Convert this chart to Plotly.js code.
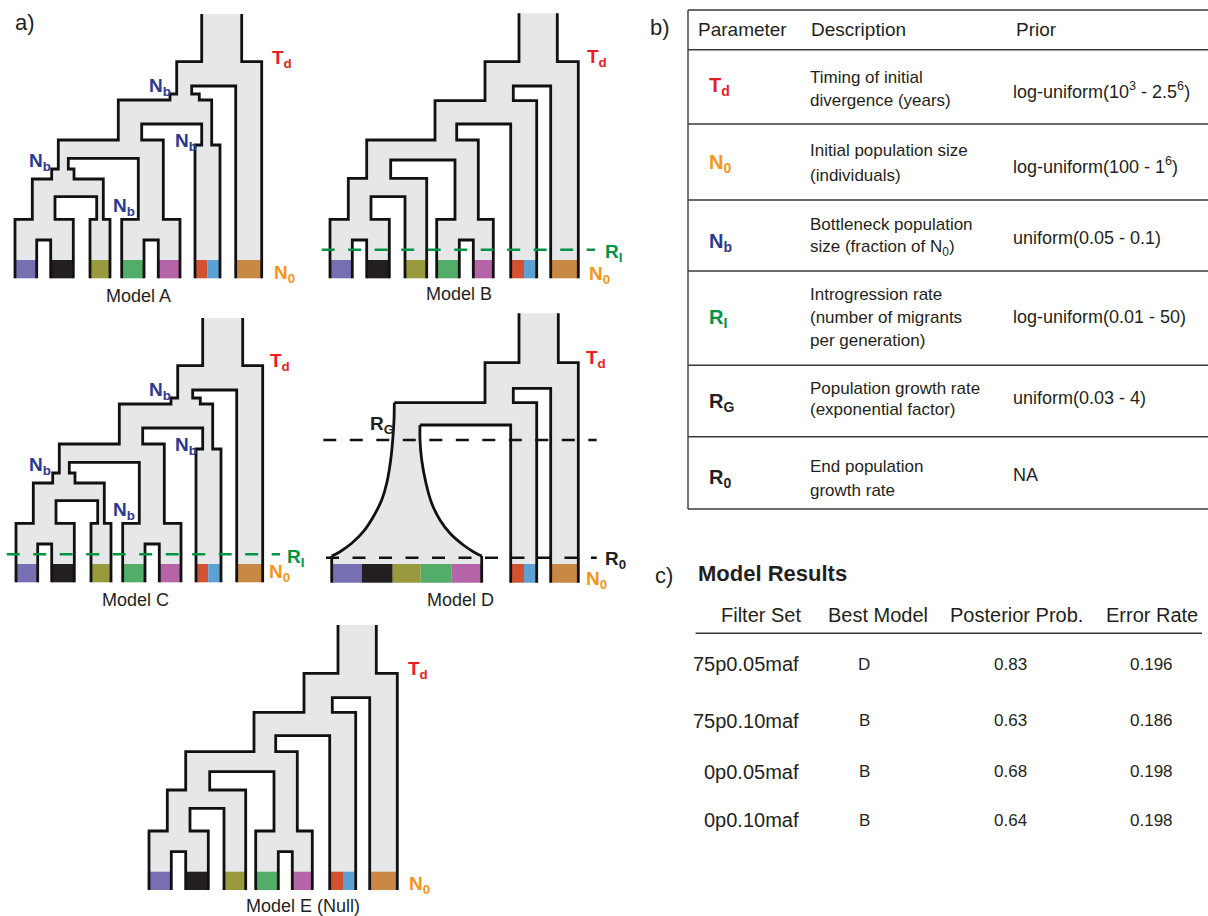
<!DOCTYPE html>
<html><head><meta charset="utf-8">
<script src="https://cdn.plot.ly/plotly-3.0.1.min.js"></script>
<style>html,body{margin:0;padding:0;background:#fff;}#chart{width:1208px;height:916px;}</style>
</head><body><div id="chart"></div>
<script>
// ================= DATA =================
// tree topology shared by models A, B, C, E
const treeNodes  = ['root','X','Y','Z','V','W','purple','black','olive','green','pink','redblue','orange'];
const innerNodes = ['root','X','Y','Z','V','W'];
const innerLeft  = ['X','Y','Z','V','purple','green'];
const innerRight = ['orange','redblue','W','olive','black','pink'];

// geometry "A" (with bottleneck steps) - used by Model A and Model C
const A_left  = [201.7,176.7,118.3,58.3,32.3,138.3,15,50.7,96.7,121.7,158.3,201.7,235.7];
const A_right = [241.7,191.7,141.7,68.3,55,163.3,36.7,73.3,103.3,144,180,211.7,261.7];
const A_splitTop = [61.7,100,140,179,219.3,219.3];
const A_splitGap = [86,124,158.3,196.7,240,240];
const A_neckY = [null,94,null,169,null,null,null,null,219.3,null,null,145,null];
const A_neckL = [null,170,null,51.7,null,null,null,null,90,null,null,195,null];
const A_neckR = [null,199.3,null,74,null,null,null,null,110,null,null,220,null];
const A_vert  = [14,260,278.3];          // top, colour-bar top, bottom
const A_rbSplit = 207.3;

// geometry "B" (plain) - used by Model B and Model E
const B_left  = [219,185,135,66.7,48.3,155,30,66.7,105,136.7,173.3,210.7,250.7];
const B_right = [257.3,213.3,156.7,90.7,71,178.3,52.3,89.3,126.7,159.3,193.3,236.7,278.3];
const B_splitTop = [61.7,100.7,140,178.3,219.3,219.3];
const B_splitGap = [86,124,160,196.7,240,240];
const B_vert  = [13.3,260,278.3];
const B_rbSplit = 224;

// geometry "D" (growth model)
const D_nodes = ['root','X','G','redblue','orange'];
const D_inner = ['root','X'];
const D_innerLeft  = ['X','G'];
const D_innerRight = ['orange','redblue'];
const D_left  = [219,185,94.3,210.7,250.7];
const D_right = [258.3,213.3,120,236.7,278.3];
const D_splitTop = [52.7,92.7];
const D_splitGap = [78.3,115];
const D_vert  = [3.3,254,272.7];
const D_rbSplit = 224;
const D_growLeftX  = [94,92.7,90.7,86.7,81.7,73.3,63.3,51.7,40,31.7];
const D_growLeftY  = [110,130,150,173.3,190,206.7,221.7,233.3,241.7,246];
const D_growRightX = [120,120,121.7,126,131.7,140,150,163.3,173.3,181.7];
const D_growRightY = [115,130,150,173.3,193.3,210,223.3,235,241.7,246];
const D_growBars   = [31.7,61.7,92.7,120.7,151.7,181.7];

// population colours
const leafNames  = ['purple','black','olive','green','pink','redblue','orange'];
const leafColors = [['#7670b2'],['#231f20'],['#999a3d'],['#51ad67'],['#b565a7'],['#d3522f','#5ba1d4'],['#c98843']];
const growColors = ['#7670b2','#231f20','#999a3d','#51ad67','#b565a7'];

// models
const modelNames = ['Model A','Model B','Model C','Model D','Model E (Null)'];
const modelGeom  = ['A','B','A','D','B'];

// dashed migration / growth lines (model-local)
const dashModel = [1,2,3,3];
const dashY     = [249.7,250.3,130,247.7];
const dashX0    = [21.7,5.7,23.3,26];
const dashX1    = [295,279,296.7,296.7];
const dashLabel = ['R<sub>I</sub>','R<sub>I</sub>','R<sub>G</sub>','R<sub>0</sub>'];

// table b
const tableHeaders = ['Parameter','Description','Prior'];
const paramSymbols = ['T<sub>d</sub>','N<sub>0</sub>','N<sub>b</sub>','R<sub>I</sub>','R<sub>G</sub>','R<sub>0</sub>'];
const paramDesc = [
  ['Timing of initial','divergence (years)'],
  ['Initial population size','(individuals)'],
  ['Bottleneck population','size (fraction of N<sub>0</sub>)'],
  ['Introgression rate','(number of migrants','per generation)'],
  ['Population growth rate','(exponential factor)'],
  ['End population','growth rate']
];
const paramPrior = ['log-uniform(10<sup>3</sup> - 2.5<sup>6</sup>)','log-uniform(100 - 1<sup>6</sup>)','uniform(0.05 - 0.1)','log-uniform(0.01 - 50)','uniform(0.03 - 4)','NA'];

// table c
const resultHeaders = ['Filter Set','Best Model','Posterior Prob.','Error Rate'];
const filterSets = ['75p0.05maf','75p0.10maf','0p0.05maf','0p0.10maf'];
const bestModel  = ['D','B','B','B'];
const posterior  = ['0.83','0.63','0.68','0.64'];
const errorRate  = ['0.196','0.186','0.198','0.198'];

// ================= LAYOUT CONSTANTS =================
const FONT = 'Liberation Sans';
const TXT = '#231f20';
const GRAY = '#e6e7e8';
const RED = '#ed1c24', ORANGE = '#f7941d', BLUE = '#2b3990', GREEN = '#009444';
const modelOffsets = [[0,0],[300,0],[1,304],[300,310],[119,611.7]];
const modelLabelPos = [[138.3,295.5],[458.8,293.7],[135.8,599.7],[460,599.7],[302.5,906.3]];
const tdPos = [[270,56.7],[585,56.3],[268.3,360],[584,356.7],[405.7,668.3]];
const n0Pos = [[271.7,271.7],[587.3,273.3],[266.7,571],[584,578.3],[406.7,883.3]];
const nbPosA = [[146.7,85],[173.3,140],[27.3,160],[111,205]];
const dashLabelPos = [[603.3,251],[285,555.5],[367.7,423.3],[603.3,557.5]];
const dashColors = [GREEN,GREEN,'#111','#111'];

// ================= BUILD =================
function makeGeom(names, left, right, inner, inL, inR, sTop, sGap, nY, nL, nR) {
  const g = {};
  names.forEach((n,i)=>{
    g[n] = {l:left[i], r:right[i], neck:(nY && nY[i]!=null) ? {y:nY[i], l:nL[i], r:nR[i]} : null};
  });
  inner.forEach((n,i)=>{ g[n].L=inL[i]; g[n].R=inR[i]; g[n].yt=sTop[i]; g[n].yb=sGap[i]; });
  return g;
}
const geoms = {
  A: {g:makeGeom(treeNodes,A_left,A_right,innerNodes,innerLeft,innerRight,A_splitTop,A_splitGap,A_neckY,A_neckL,A_neckR), vert:A_vert, rb:A_rbSplit},
  B: {g:makeGeom(treeNodes,B_left,B_right,innerNodes,innerLeft,innerRight,B_splitTop,B_splitGap), vert:B_vert, rb:B_rbSplit},
  D: {g:makeGeom(D_nodes,D_left,D_right,D_inner,D_innerLeft,D_innerRight,D_splitTop,D_splitGap), vert:D_vert, rb:D_rbSplit}
};
geoms.D.g.G.curveL = [D_growLeftX, D_growLeftY];
geoms.D.g.G.curveR = [D_growRightX, D_growRightY];

const traces = [];
function buildTree(geo, ox, oy) {
  const g = geo.g, top = geo.vert[0], ctop = geo.vert[1], bottom = geo.vert[2];
  const fill = [];
  const segs = [];
  let cur = {smooth:false, pts:[]};
  const P = (x,y) => { fill.push([x,y]); cur.pts.push([x,y]); };
  const brk = () => { if (cur.pts.length > 1) segs.push(cur); cur = {smooth:false, pts:[]}; };
  const curve = (xs, ys) => {
    const last = cur.pts[cur.pts.length-1];
    brk(); cur = {smooth:true, pts: last ? [last] : []};
    xs.forEach((x,i)=>P(x, ys[i]));
    const end = cur.pts[cur.pts.length-1];
    brk(); cur.pts.push(end);
  };
  const bars = [];
  function rec(name) {
    const n = g[name];
    if (n.neck) { P(n.l, n.neck.y); P(n.neck.l, n.neck.y); }
    let ll = n.neck ? n.neck.l : n.l, rr = n.neck ? n.neck.r : n.r;
    if (!n.L) {
      if (n.curveL) { curve(n.curveL[0], n.curveL[1]); ll = n.curveL[0][n.curveL[0].length-1]; }
      P(ll, bottom); brk();
      if (n.curveR) {
        const xs = n.curveR[0], ys = n.curveR[1], k = xs.length-1;
        rr = xs[k];
        P(rr, bottom); P(xs[k], ys[k]);
        curve(xs.slice(0,k).reverse(), ys.slice(0,k).reverse());
      } else {
        P(rr, bottom);
      }
      const li = leafNames.indexOf(name);
      if (li >= 0) {
        const cols = leafColors[li];
        const bnd = cols.length === 2 ? [ll, geo.rb, rr] : [ll, rr];
        cols.forEach((c,j)=>bars.push([bnd[j], bnd[j+1], c]));
      } else if (name === 'G') {
        growColors.forEach((c,j)=>bars.push([D_growBars[j], D_growBars[j+1], c]));
      }
    } else {
      const L = g[n.L], R = g[n.R];
      P(ll, n.yt); P(L.l, n.yt);
      rec(n.L);
      P(L.r, n.yb); P(R.l, n.yb);
      rec(n.R);
      P(R.r, n.yt); P(rr, n.yt);
    }
    if (n.neck) { P(n.neck.r, n.neck.y); P(n.r, n.neck.y); }
  }
  P(g.root.l, top);
  rec('root');
  P(g.root.r, top);
  brk();

  traces.push({type:'scatter', mode:'lines', x:fill.map(p=>p[0]+ox), y:fill.map(p=>p[1]+oy),
    fill:'toself', fillcolor:GRAY, line:{width:0, color:GRAY}, hoverinfo:'skip'});
  bars.forEach(b=>{
    traces.push({type:'scatter', mode:'lines', x:[b[0],b[1],b[1],b[0],b[0]].map(v=>v+ox),
      y:[ctop,ctop,bottom,bottom,ctop].map(v=>v+oy), fill:'toself', fillcolor:b[2],
      line:{width:0, color:b[2]}, hoverinfo:'skip'});
  });
  const lx=[], ly=[], sx=[], sy=[];
  segs.forEach(s=>{
    const X = s.smooth ? sx : lx, Y = s.smooth ? sy : ly;
    s.pts.forEach(p=>{ X.push(p[0]+ox); Y.push(p[1]+oy); });
    X.push(null); Y.push(null);
  });
  traces.push({type:'scatter', mode:'lines', x:lx, y:ly, line:{color:'#111', width:2.8}, hoverinfo:'skip', connectgaps:false});
  if (sx.length) traces.push({type:'scatter', mode:'lines', x:sx, y:sy, line:{color:'#111', width:2.8, shape:'spline', smoothing:1}, hoverinfo:'skip', connectgaps:false});
}

modelNames.forEach((m,i)=>buildTree(geoms[modelGeom[i]], modelOffsets[i][0], modelOffsets[i][1]));

dashModel.forEach((mi,k)=>{
  const o = modelOffsets[mi];
  traces.push({type:'scatter', mode:'lines', x:[dashX0[k]+o[0], dashX1[k]+o[0]], y:[dashY[k]+o[1], dashY[k]+o[1]],
    line:{color:dashColors[k], width:2.4, dash:'13px,13.5px'}, hoverinfo:'skip'});
});

// ================= ANNOTATIONS =================
const ann = [];
function A(x, y, text, size, color, opts) {
  ann.push(Object.assign({x:x, y:y, xref:'x', yref:'y', text:text, showarrow:false,
    xanchor:'left', yanchor:'middle', font:{family:FONT, size:size, color:color}}, opts||{}));
}
// panel letters
A(13, 22, 'a)', 22, TXT);
A(648, 27, 'b)', 22, TXT);
A(653, 575, 'c)', 22, TXT);

// model labels and tree parameter labels
modelNames.forEach((m,i)=>A(modelLabelPos[i][0], modelLabelPos[i][1], m, 18, TXT, {xanchor:'center'}));
tdPos.forEach(p=>A(p[0], p[1]+2, '<b>T<sub>d</sub></b>', 19, RED));
n0Pos.forEach(p=>A(p[0], p[1]+2, '<b>N<sub>0</sub></b>', 19, ORANGE));
[0,2].forEach(mi=>{
  const dy = mi===0 ? 0 : 304.3;
  nbPosA.forEach(p=>A(p[0], p[1]+dy+2, '<b>N<sub>b</sub></b>', 19, BLUE));
});
dashLabelPos.forEach((p,k)=>A(p[0], p[1]+2, '<b>'+dashLabel[k]+'</b>', 19, dashColors[k]==='#111' ? TXT : GREEN));

// table b
const tbTop = 10, tbLeft = 688, tbRight = 1208;
const tbRows = [49.8,124,200,271,365.3,436.7,509];
const headerX = [696.3, 809, 1013.7];
tableHeaders.forEach((h,i)=>A(headerX[i], 29.7, h, 19, TXT));
const symY = [84.2,161.7,240.8,316.7,400.3,476.3];
const symColor = [RED, ORANGE, BLUE, GREEN, TXT, TXT];
const descY = [[77.5,100.5],[150.2,175.5],[224.2,247.5],[294.2,317,340],[388.8,409.7],[466.3,490.3]];
const priorY = [90.8,165,237.5,317,397.5,474.5];
paramSymbols.forEach((s,i)=>{
  A(707, symY[i]+2, '<b>'+s+'</b>', 20, symColor[i]);
  paramDesc[i].forEach((d,j)=>A(808.4, descY[i][j], d, 17, TXT));
  A(1011.2, priorY[i], paramPrior[i], 18, TXT);
});

// table c
A(696, 573, '<b>Model Results</b>', 22, TXT);
A(803, 615, resultHeaders[0], 20, TXT, {xanchor:'right'});
A(826.2, 615, resultHeaders[1], 20, TXT);
A(948.2, 615, resultHeaders[2], 20, TXT);
A(1103.7, 615, resultHeaders[3], 20, TXT);
const rowY = [664,720.7,771.7,820];
filterSets.forEach((f,i)=>{
  A(801.2, rowY[i], f, 20, TXT, {xanchor:'right'});
  A(864.4, rowY[i], bestModel[i], 17, TXT, {xanchor:'center'});
  A(1010, rowY[i], posterior[i], 17, TXT, {xanchor:'center'});
  A(1151.4, rowY[i], errorRate[i], 17, TXT, {xanchor:'center'});
});

// ================= SHAPES (table rules) =================
const shapes = [];
const hl = (x0,x1,y,w,c) => shapes.push({type:'line', xref:'x', yref:'y', x0:x0, x1:x1, y0:y, y1:y, line:{color:c||'#3a3a3a', width:w||1.4}});
hl(tbLeft, tbRight, tbTop);
tbRows.forEach(y=>hl(tbLeft, tbRight, y));
shapes.push({type:'line', xref:'x', yref:'y', x0:tbLeft, x1:tbLeft, y0:tbTop, y1:tbRows[tbRows.length-1], line:{color:'#3a3a3a', width:1.4}});
hl(695.6, 1202, 633.3, 1.6);

const layout = {
  width:1208, height:916, margin:{l:0,r:0,t:0,b:0}, showlegend:false,
  paper_bgcolor:'#fff', plot_bgcolor:'#fff',
  font:{family:FONT, size:17, color:TXT},
  xaxis:{range:[0,1208], visible:false, fixedrange:true},
  yaxis:{range:[916,0], visible:false, fixedrange:true},
  annotations:ann, shapes:shapes, hovermode:false
};
Plotly.newPlot('chart', traces, layout, {displayModeBar:false});
</script></body></html>
